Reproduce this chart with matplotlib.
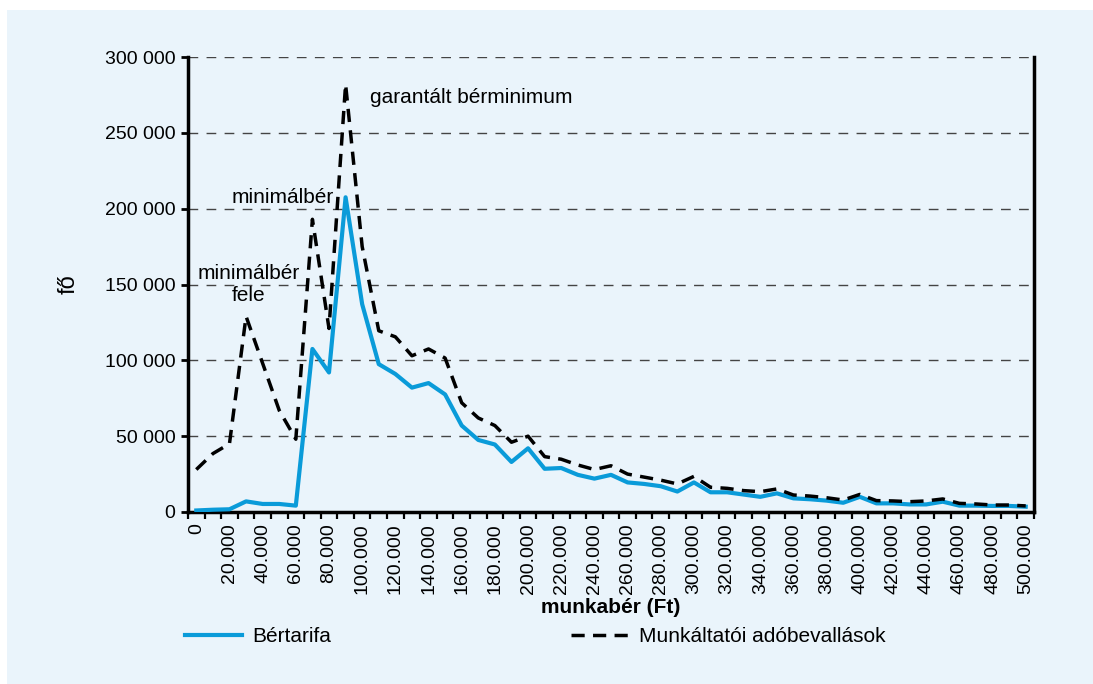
import matplotlib.pyplot as plt
import numpy as np
from matplotlib.patches import Rectangle
from matplotlib.ticker import FuncFormatter, FixedLocator

plt.rcParams['font.family'] = ['Liberation Sans', 'DejaVu Sans']

# munkabér kategóriák (Ft)
berek = np.arange(0, 510000, 10000)

# Bértarifa (fő)
bertarifa = [1000, 1500, 1800, 7000, 5300, 5300, 4200, 107500, 92000, 207500,
             137000, 97500, 91000, 82000, 85000, 77500, 57000, 47500, 44500, 33000,
             42000, 28500, 29000, 24500, 22000, 24500, 19500, 18500, 17000, 13500,
             19500, 13000, 13000, 11500, 10000, 12300, 9000, 8400, 7500, 6100,
             10000, 5700, 5700, 5000, 5000, 6800, 4200, 4200, 4000, 4000, 3500]

# Munkáltatói adóbevallások (fő)
adobevallas = [28000, 38500, 45000, 129000, 98000, 67000, 48000, 193000, 121000, 282000,
               175000, 119500, 115500, 103000, 107500, 101500, 72000, 62000, 57000, 46000,
               50000, 36500, 34800, 31000, 28000, 30500, 25000, 23000, 21000, 18500,
               23500, 16300, 15600, 14100, 13400, 15200, 11200, 10500, 9400, 7900,
               11600, 7500, 7300, 6800, 7300, 8600, 5700, 5300, 4600, 4600, 4000]

kek = '#0A9BD9'
hatter = '#EAF4FB'

fig = plt.figure(figsize=(10.93, 6.84), dpi=100, facecolor='white')
fig.patches.append(Rectangle((7 / 1093, 0), 1, 1 - 10 / 684, transform=fig.transFigure,
                             facecolor=hatter, edgecolor='none', zorder=-10))

ax = fig.add_axes([188 / 1093, 1 - 512 / 684, 846 / 1093, 455 / 684])
ax.set_facecolor(hatter)

ax.plot(berek, bertarifa, color=kek, lw=3.0, label='Bértarifa', zorder=3)
ax.plot(berek, adobevallas, color='black', lw=2.5, ls=(0, (3.8, 2.4)),
        label='Munkáltatói adóbevallások', zorder=4)

ax.set_xlim(-5000, 505000)
ax.set_ylim(0, 300000)

# y tengely
ax.set_yticks(np.arange(0, 300001, 50000))
ax.yaxis.set_major_formatter(FuncFormatter(lambda v, p: f'{int(v):,}'.replace(',', ' ')))
ax.grid(axis='y', color='#444444', lw=1.0, ls=(0, (7, 6)))
ax.set_axisbelow(True)

# x tengely: feliratok a kategóriák alatt, osztások a határokon
ax.xaxis.set_major_locator(FixedLocator(berek[::2]))
ax.xaxis.set_major_formatter(FuncFormatter(lambda v, p: f'{int(v):,}'.replace(',', '.')))
ax.xaxis.set_minor_locator(FixedLocator(np.arange(-5000, 510000, 10000)))
ax.tick_params(axis='x', which='major', length=0, pad=8, labelrotation=90, labelsize=14)
ax.tick_params(axis='x', which='minor', length=5, width=1.6, direction='out')
ax.tick_params(axis='y', length=5, width=2, pad=4, labelsize=14)

for s in ['left', 'bottom', 'right']:
    ax.spines[s].set_linewidth(2.5)
ax.spines['top'].set_visible(False)

ax.set_xlabel('munkabér (Ft)', fontsize=15, fontweight='bold')
ax.xaxis.set_label_coords(0.5, -0.19)
ax.set_ylabel('fő', fontsize=17)
ax.yaxis.set_label_coords(-0.128, 0.5)

# feliratok
ax.text(104700, 273000, 'garantált bérminimum', fontsize=15, ha='left', va='center')
ax.text(83000, 207500, 'minimálbér', fontsize=15, ha='right', va='center')
ax.text(31800, 150000, 'minimálbér\nfele', fontsize=15, ha='center', va='center',
        linespacing=1.15)

fig.legend(loc='center left', bbox_to_anchor=(185 / 1093, 1 - 637 / 684), ncol=2,
           frameon=False, fontsize=15, handlelength=2.75, handletextpad=0.5,
           columnspacing=11.5, borderpad=0, borderaxespad=0)

fig.savefig('out.png', dpi=100, facecolor='white')
